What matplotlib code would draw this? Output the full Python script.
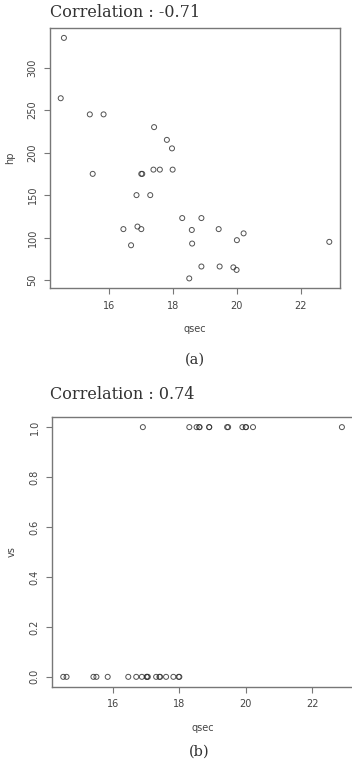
import numpy as np
import matplotlib
matplotlib.use('Agg')
from matplotlib import pyplot as plt

# mtcars columns
qsec = [16.46, 17.02, 18.61, 19.44, 17.02, 20.22, 15.84, 20.00, 22.90, 18.30,
        18.90, 17.40, 17.60, 18.00, 17.98, 17.82, 17.42, 19.47, 18.52, 19.90,
        20.01, 16.87, 17.30, 15.41, 17.05, 18.90, 16.70, 16.90, 14.50, 15.50,
        14.60, 18.60]
hp = [110, 110, 93, 110, 175, 105, 245, 62, 95, 123,
      123, 180, 180, 180, 205, 215, 230, 66, 52, 65,
      97, 150, 150, 245, 175, 66, 91, 113, 264, 175,
      335, 109]
vs = [0, 0, 1, 1, 0, 1, 0, 1, 1, 1,
      1, 0, 0, 0, 0, 0, 0, 1, 1, 1,
      1, 0, 0, 0, 0, 1, 0, 1, 0, 0,
      0, 1]
xticks = [16, 18, 20, 22]
hp_ticks = [50, 100, 150, 200, 250, 300]
vs_ticks = [0.0, 0.2, 0.4, 0.6, 0.8, 1.0]

TXT = '#444444'
AX = '#777777'
serif = 'DejaVu Serif'


def r_range(v):
    '''R style 4% padding'''
    lo, hi = min(v), max(v)
    d = (hi - lo) * 0.04
    return lo - d, hi + d


def r_scatter(ax, x, y, ylab, yticks, yfmt):
    ax.scatter(x, y, s=13, facecolors='none', edgecolors='#333333',
               linewidths=0.7, alpha=0.85)
    ax.set_xlim(r_range(x))
    ax.set_ylim(r_range(y))
    ax.set_xticks(xticks)
    ax.set_xticklabels([str(t) for t in xticks])
    ax.set_yticks(yticks)
    ax.set_yticklabels([yfmt.format(t) for t in yticks], rotation=90,
                       va='center')
    for s in ax.spines.values():
        s.set_color(AX)
        s.set_linewidth(1.0)
    ax.tick_params(colors=AX, labelcolor=TXT, labelsize=7, length=4,
                   width=0.8, pad=5)
    ax.set_xlabel('qsec', fontsize=7, color=TXT, labelpad=10)
    ax.set_ylabel(ylab, fontsize=7, color=TXT, labelpad=9)
    return ax


fig = plt.figure(figsize=(3.52, 7.64), dpi=100)

ax1 = fig.add_axes([0.142, 0.623, 0.824, 0.340])
r_scatter(ax1, qsec, hp, 'hp', hp_ticks, '{:d}')
ax2 = fig.add_axes([0.148, 0.101, 0.855, 0.353])
r_scatter(ax2, qsec, vs, 'vs', vs_ticks, '{:.1f}')

r1 = np.corrcoef(qsec, hp)[0, 1]
r2 = np.corrcoef(qsec, vs)[0, 1]
fig.text(0.142, 0.984, 'Correlation : %.2f' % r1, family=serif, fontsize=11.5,
         color='#333333', va='center')
fig.text(0.142, 0.483, 'Correlation : %.2f' % r2, family=serif, fontsize=11.5,
         color='#333333', va='center')
fig.text(0.554, 0.529, '(a)', family=serif, fontsize=10.5, color='#333333',
         ha='center', va='center')
fig.text(0.565, 0.016, '(b)', family=serif, fontsize=10.5, color='#333333',
         ha='center', va='center')

fig.savefig('out.png', dpi=100)
